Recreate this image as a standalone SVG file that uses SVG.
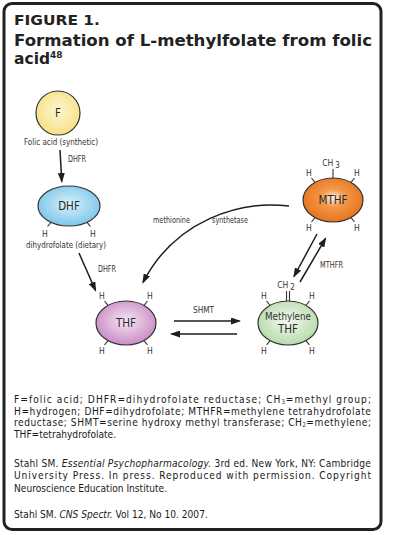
<svg xmlns="http://www.w3.org/2000/svg" width="400" height="535" viewBox="0 0 400 535">
<defs>
<style>
.lab{font-family:"DejaVu Sans Condensed","Liberation Sans Narrow","Liberation Sans",sans-serif;fill:#333;}
.node{font-size:11.5px;text-anchor:middle;fill:#2a2a2a;}
.sm{font-size:8.5px;}
.h{font-size:8.5px;text-anchor:middle;}
.tick{stroke:#333;stroke-width:1.1;fill:none;}
.edge{stroke:#1e1e1e;stroke-width:1.5;fill:none;marker-end:url(#ah);}
.body{font-family:"DejaVu Sans Condensed","Liberation Sans Narrow","Liberation Sans",sans-serif;font-size:11px;fill:#1a1a1a;}
.ttl{font-family:"DejaVu Sans","Liberation Sans",sans-serif;font-weight:bold;fill:#222;}
.shape{stroke:#333;stroke-width:1.2;}
</style>
<marker id="ah" markerUnits="userSpaceOnUse" markerWidth="10" markerHeight="7" refX="8.5" refY="3.5" orient="auto">
<path d="M0,0 L10,3.5 L0,7 Z" fill="#1e1e1e"/>
</marker>
<radialGradient id="gF" cx="50%" cy="45%" r="55%"><stop offset="0" stop-color="#fdf7cf"/><stop offset="1" stop-color="#f6e086"/></radialGradient>
<radialGradient id="gD" cx="50%" cy="45%" r="55%"><stop offset="0" stop-color="#d9f1fb"/><stop offset="1" stop-color="#7cc6ea"/></radialGradient>
<radialGradient id="gT" cx="50%" cy="45%" r="55%"><stop offset="0" stop-color="#f6e6f4"/><stop offset="1" stop-color="#c98cc5"/></radialGradient>
<radialGradient id="gM" cx="50%" cy="45%" r="55%"><stop offset="0" stop-color="#f3faf0"/><stop offset="1" stop-color="#b6dbab"/></radialGradient>
<radialGradient id="gO" cx="50%" cy="45%" r="55%"><stop offset="0" stop-color="#fff4ea"/><stop offset="0.35" stop-color="#f39a4a"/><stop offset="1" stop-color="#e8721c"/></radialGradient>
</defs>
<rect x="0" y="0" width="400" height="535" fill="#fff"/>
<rect x="4" y="3.5" width="377" height="526" rx="8" fill="#fff" stroke="#222" stroke-width="3"/>

<g id="title">
<text class="ttl" x="14" y="25" font-size="14" textLength="86" lengthAdjust="spacingAndGlyphs">FIGURE 1.</text>
<text class="ttl" x="14" y="46" font-size="15.5" textLength="358" lengthAdjust="spacingAndGlyphs">Formation of L-methylfolate from folic</text>
<text class="ttl" x="14" y="64" font-size="15.5">acid<tspan font-size="9" dy="-6">48</tspan></text>
</g>

<g id="connectors">
<line class="edge" x1="60" y1="150" x2="61.8" y2="181.5"/>
<text class="lab sm" x="68" y="162" textLength="18" lengthAdjust="spacingAndGlyphs">DHFR</text>
<line class="edge" x1="79" y1="253" x2="95.5" y2="290.5"/>
<text class="lab sm" x="98" y="272" textLength="18" lengthAdjust="spacingAndGlyphs">DHFR</text>
<path class="edge" d="M289,206 C240,200 175,220 143,282.5"/>
<text class="lab sm" x="153" y="223" textLength="37" lengthAdjust="spacingAndGlyphs">methionine</text>
<text class="lab sm" x="212" y="223" textLength="36" lengthAdjust="spacingAndGlyphs">synthetase</text>
<line class="edge" x1="317" y1="234" x2="294" y2="276.5"/>
<line class="edge" x1="300" y1="282" x2="325.5" y2="238.5"/>
<text class="lab sm" x="320" y="268" textLength="23" lengthAdjust="spacingAndGlyphs">MTHFR</text>
<line class="edge" x1="174" y1="321" x2="239.5" y2="321"/>
<line class="edge" x1="237" y1="334" x2="171.5" y2="334"/>
<text class="lab sm" x="193" y="313" textLength="21" lengthAdjust="spacingAndGlyphs">SHMT</text>
</g>

<g id="node-F">
<circle class="shape" cx="58" cy="113" r="22" fill="url(#gF)"/>
<text class="lab node" x="58" y="117">F</text>
<text class="lab sm" x="24" y="145" textLength="74" lengthAdjust="spacingAndGlyphs">Folic acid (synthetic)</text>
</g>

<g id="node-DHF">
<ellipse class="shape" cx="69" cy="206" rx="31" ry="20" fill="url(#gD)"/>
<text class="lab node" x="69" y="210">DHF</text>
<path class="tick" d="M51,222.3 L47.5,226.5 M87,222.3 L90.5,226.5"/>
<text class="lab h" x="45" y="237">H</text>
<text class="lab h" x="93" y="237">H</text>
<text class="lab sm" x="26" y="248" textLength="80" lengthAdjust="spacingAndGlyphs">dihydrofolate (dietary)</text>
</g>

<g id="node-THF">
<ellipse class="shape" cx="126" cy="323" rx="30" ry="22" fill="url(#gT)"/>
<text class="lab node" x="126" y="327">THF</text>
<path class="tick" d="M108,305.4 L104.5,301 M144,305.4 L147.5,301 M108,340.6 L104.5,345 M144,340.6 L147.5,345"/>
<text class="lab h" x="102" y="298.5">H</text>
<text class="lab h" x="150" y="298.5">H</text>
<text class="lab h" x="102" y="353.5">H</text>
<text class="lab h" x="150" y="353.5">H</text>
</g>

<g id="node-MethyleneTHF">
<ellipse class="shape" cx="288" cy="323" rx="30" ry="22" fill="url(#gM)"/>
<text class="lab" x="265" y="320" font-size="11" fill="#2a2a2a" textLength="46" lengthAdjust="spacingAndGlyphs">Methylene</text>
<text class="lab node" x="288" y="333" font-size="11">THF</text>
<path class="tick" d="M270,305.4 L266.5,301 M306,305.4 L309.5,301 M270,340.6 L266.5,345 M306,340.6 L309.5,345"/>
<path class="tick" d="M286.5,291 V301 M289.5,291 V301"/>
<text class="lab h" x="264" y="298.5">H</text>
<text class="lab h" x="312" y="298.5">H</text>
<text class="lab h" x="264" y="353.5">H</text>
<text class="lab h" x="312" y="353.5">H</text>
<text class="lab h" x="286" y="288" font-size="9">CH<tspan font-size="8" dx="2" dy="2">2</tspan></text>
</g>

<g id="node-MTHF">
<ellipse class="shape" cx="333" cy="200" rx="30" ry="22" fill="url(#gO)"/>
<text class="lab node" x="333" y="204" fill="#3a2410">MTHF</text>
<path class="tick" d="M315,182.4 L311.5,178 M351,182.4 L354.5,178 M315,217.6 L311.5,222 M351,217.6 L354.5,222"/>
<path class="tick" d="M333,169 V178"/>
<text class="lab h" x="309" y="176">H</text>
<text class="lab h" x="357" y="176">H</text>
<text class="lab h" x="309" y="230.5">H</text>
<text class="lab h" x="357" y="230.5">H</text>
<text class="lab h" x="331" y="166" font-size="9">CH<tspan font-size="8" dx="2" dy="2">3</tspan></text>
</g>

<g id="legend" class="body" transform="translate(14,0) scale(0.92,1)">
<text x="0" y="403.5" textLength="388" lengthAdjust="spacing">F=folic acid; DHFR=dihydrofolate reductase; CH<tspan font-size="6.5" dy="1">3</tspan><tspan dy="-1">=methyl group;</tspan></text>
<text x="0" y="415" textLength="388" lengthAdjust="spacing">H=hydrogen; DHF=dihydrofolate; MTHFR=methylene tetrahydrofolate</text>
<text x="0" y="426.5" textLength="388" lengthAdjust="spacing">reductase; SHMT=serine hydroxy methyl transferase; CH<tspan font-size="6.5" dy="1">2</tspan><tspan dy="-1">=methylene;</tspan></text>
<text x="0" y="438">THF=tetrahydrofolate.</text>
<text x="0" y="467" textLength="388" lengthAdjust="spacing">Stahl SM. <tspan font-style="italic">Essential Psychopharmacology.</tspan> 3rd ed. New York, NY: Cambridge</text>
<text x="0" y="479.5" textLength="388" lengthAdjust="spacing">University Press. In press. Reproduced with permission. Copyright</text>
<text x="0" y="492">Neuroscience Education Institute.</text>
<text x="0" y="518">Stahl SM. <tspan font-style="italic">CNS Spectr.</tspan> Vol 12, No 10. 2007.</text>
</g>
</svg>
